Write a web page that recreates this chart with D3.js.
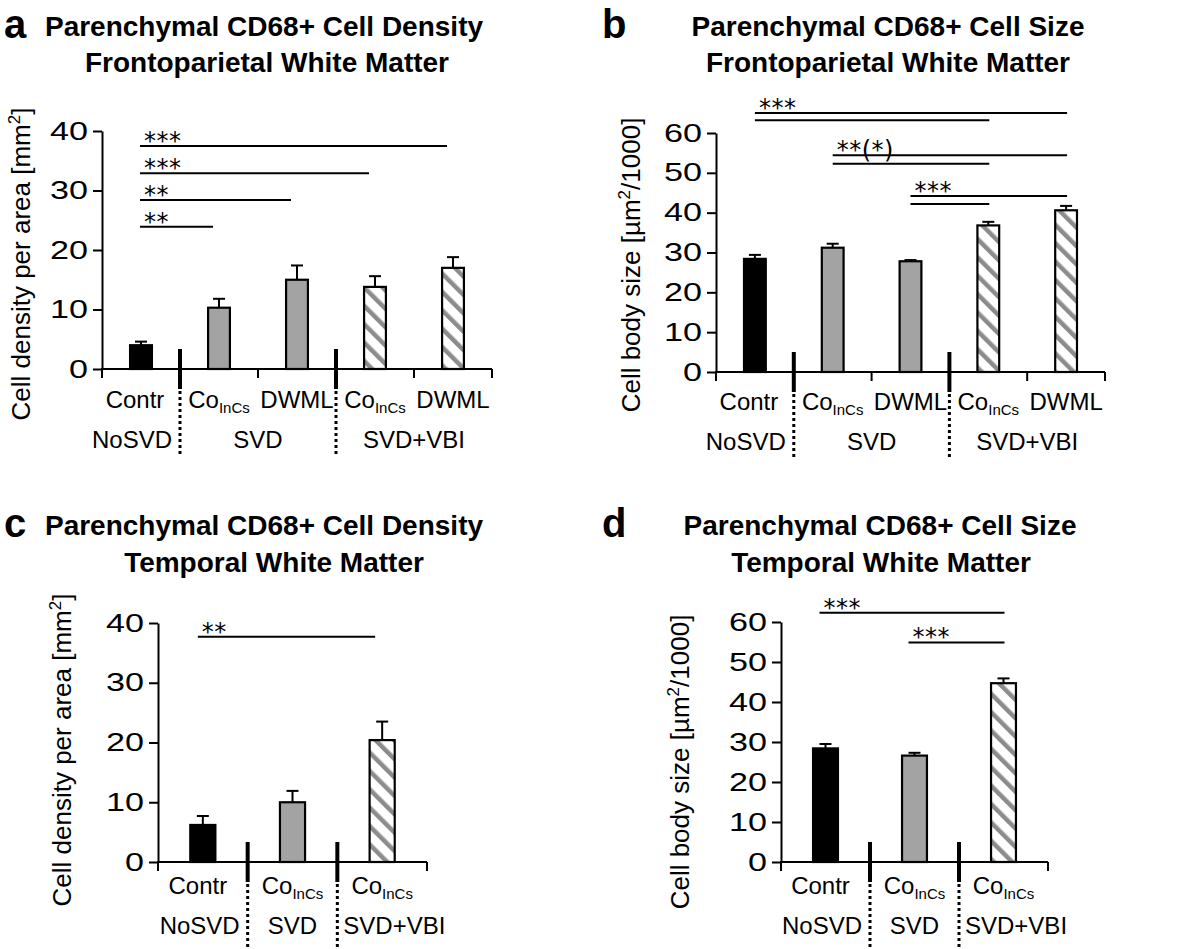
<!DOCTYPE html>
<html><head><meta charset="utf-8">
<script src="https://cdn.jsdelivr.net/npm/d3@7"></script>
<style>
body{margin:0;background:#fff;}
svg{display:block;font-family:"Liberation Sans",Arial,Helvetica,sans-serif;}
</style></head><body>
<svg id="fig" width="1181" height="949"></svg>
<script>
// ---------- DATA ----------
const catMainAB = ["Contr", "Co", "DWML", "Co", "DWML"];
const catSubAB  = ["", "InCs", "", "InCs", ""];
const fillAB    = ["black", "gray", "gray", "hatch", "hatch"];
const groupsAB  = ["NoSVD", "SVD", "SVD+VBI"];
const groupSizeAB = [1, 2, 2];

const catMainCD = ["Contr", "Co", "Co"];
const catSubCD  = ["", "InCs", "InCs"];
const fillCD    = ["black", "gray", "hatch"];
const groupsCD  = ["NoSVD", "SVD", "SVD+VBI"];
const groupSizeCD = [1, 1, 1];

const valuesA = [4.0, 10.3, 15.0, 13.8, 17.0];
const errorsA = [0.6, 1.5, 2.4, 1.8, 1.8];
const valuesB = [28.4, 31.2, 27.8, 36.8, 40.6];
const errorsB = [1.0, 1.0, 0.3, 0.9, 1.1];
const valuesC = [6.2, 10.0, 20.4];
const errorsC = [1.5, 1.9, 3.1];
const valuesD = [28.4, 26.6, 44.7];
const errorsD = [1.1, 0.7, 1.2];

const ticksDensity = [0, 10, 20, 30, 40];
const ticksSize    = [0, 10, 20, 30, 40, 50, 60];

// significance brackets: from category, to category, height (data units), label
const sigA = [
  {from: 0, to: 4, level: 37.5, label: "***"},
  {from: 0, to: 3, level: 32.9, label: "***"},
  {from: 0, to: 2, level: 28.4, label: "**"},
  {from: 0, to: 1, level: 23.9, label: "**"}
];
const sigB = [
  {from: 0, to: 4, level: 65.0, label: "***"},
  {from: 0, to: 3, level: 63.2, label: ""},
  {from: 1, to: 4, level: 54.4, label: "**(*)"},
  {from: 1, to: 3, level: 52.3, label: ""},
  {from: 2, to: 4, level: 44.2, label: "***"},
  {from: 2, to: 3, level: 42.2, label: ""}
];
const sigC = [
  {from: 0, to: 2, level: 37.7, label: "**"}
];
const sigD = [
  {from: 0, to: 2, level: 62.3, label: "***"},
  {from: 1, to: 2, level: 54.9, label: "***"}
];

const titleDensity = "Parenchymal CD68+ Cell Density";
const titleSize = "Parenchymal CD68+ Cell Size";
const regionFP = "Frontoparietal White Matter";
const regionT = "Temporal White Matter";
const yLabelDensity = ["Cell density per area [mm", "2", "]"];
const yLabelSize = ["Cell body size [µm", "2", "/1000]"];

// ---------- DRAWING ----------
const svg = d3.select("#fig");
const defs = svg.append("defs");
const pat = defs.append("pattern").attr("id", "hatch")
  .attr("patternUnits", "userSpaceOnUse").attr("width", 13).attr("height", 13)
  .attr("patternTransform", "rotate(-45)");
pat.append("rect").attr("width", 13).attr("height", 13).attr("fill", "#ffffff");
pat.append("rect").attr("x", 0).attr("width", 4.5).attr("height", 13).attr("fill", "#8c8c8c");

const fillColor = t => t === "black" ? "#000000" : t === "gray" ? "#a3a3a3" : "url(#hatch)";

function drawPanel(c) {
  const g = svg.append("g");
  const n = c.values.length;
  const x = d3.scaleBand().domain(d3.range(n)).range([c.x0, c.x1])
    .paddingInner(0.72).paddingOuter(0.36);
  const y = d3.scaleLinear().domain([0, d3.max(c.ticks)]).range([c.yBottom, c.yTop]);
  const step = x.step();
  const cx = i => x(i) + x.bandwidth() / 2;
  const boundary = k => k < n ? cx(k) - step / 2 : cx(n - 1) + step / 2;

  // letter & titles
  g.append("text").attr("x", c.letterX).attr("y", c.titleY1 + 2)
    .attr("font-size", 40).attr("font-weight", "bold").text(c.letter);
  g.append("text").attr("x", c.titleX1).attr("y", c.titleY1).attr("text-anchor", "middle")
    .attr("font-size", 28).attr("font-weight", "bold").text(c.title1);
  g.append("text").attr("x", c.titleX2).attr("y", c.titleY2).attr("text-anchor", "middle")
    .attr("font-size", 28).attr("font-weight", "bold").text(c.title2);

  // y label
  const yl = g.append("text")
    .attr("transform", `translate(${c.yLabelX},${c.yLabelY}) rotate(-90)`)
    .attr("text-anchor", "middle").attr("font-size", 26);
  yl.append("tspan").text(c.yLabel[0]);
  yl.append("tspan").attr("font-size", 17).attr("dy", -10).text(c.yLabel[1]);
  yl.append("tspan").attr("dy", 10).text(c.yLabel[2]);

  // bars
  g.append("g").selectAll("rect").data(c.values).join("rect")
    .attr("x", (d, i) => x(i)).attr("width", x.bandwidth())
    .attr("y", d => y(d)).attr("height", d => y(0) - y(d))
    .attr("fill", (d, i) => fillColor(c.fills[i]))
    .attr("stroke", "#000").attr("stroke-width", 2.2);

  // error bars
  const eb = g.append("g").attr("stroke", "#000").attr("stroke-width", 2);
  eb.selectAll("line.v").data(c.values).join("line").attr("class", "v")
    .attr("x1", (d, i) => cx(i)).attr("x2", (d, i) => cx(i))
    .attr("y1", d => y(d)).attr("y2", (d, i) => y(d + c.errors[i]));
  eb.selectAll("line.c").data(c.values).join("line").attr("class", "c")
    .attr("x1", (d, i) => cx(i) - 6).attr("x2", (d, i) => cx(i) + 6)
    .attr("y1", (d, i) => y(d + c.errors[i])).attr("y2", (d, i) => y(d + c.errors[i]));

  // y axis
  const ya = g.append("g").attr("transform", `translate(${c.x0},0)`)
    .call(d3.axisLeft(y).tickValues(c.ticks).tickSize(9).tickSizeOuter(0).tickPadding(5));
  ya.select(".domain").attr("stroke", "#000").attr("stroke-width", 2);
  ya.selectAll(".tick line").attr("stroke", "#000").attr("stroke-width", 2);
  ya.selectAll(".tick text").attr("font-size", 25).attr("fill", "#000")
    .attr("font-family", "Liberation Sans, Arial, sans-serif")
    .attr("textLength", d => String(d).length * 19).attr("lengthAdjust", "spacingAndGlyphs");

  // x axis
  g.append("line").attr("x1", c.x0 - 1).attr("x2", boundary(n)).attr("y1", y(0)).attr("y2", y(0))
    .attr("stroke", "#000").attr("stroke-width", 2);
  const gb = [];
  let acc = 0;
  c.groupSize.forEach((s, i) => { if (i > 0) gb.push(acc); acc += s; });
  const ks = d3.range(n + 1);
  g.append("g").selectAll("line").data(ks.filter(k => !gb.includes(k))).join("line")
    .attr("x1", k => boundary(k)).attr("x2", k => boundary(k))
    .attr("y1", y(0)).attr("y2", y(0) + 9)
    .attr("stroke", "#000").attr("stroke-width", 2);
  g.append("g").selectAll("line").data(gb).join("line")
    .attr("x1", k => boundary(k)).attr("x2", k => boundary(k))
    .attr("y1", y(0) - 20).attr("y2", y(0) + 20)
    .attr("stroke", "#000").attr("stroke-width", 4);
  g.append("g").selectAll("line").data(gb).join("line")
    .attr("x1", k => boundary(k)).attr("x2", k => boundary(k))
    .attr("y1", y(0) + 22).attr("y2", c.dotEnd)
    .attr("stroke", "#000").attr("stroke-width", 3).attr("stroke-dasharray", "3,3");

  // category labels
  const cl = g.append("g").selectAll("text").data(c.catMain).join("text")
    .attr("x", (d, i) => cx(i) + (i === 0 ? c.firstNudge : 0)).attr("y", c.catY)
    .attr("text-anchor", "middle").attr("font-size", 24);
  cl.append("tspan").text(d => d);
  cl.append("tspan").attr("font-size", 15).attr("dy", 5).text((d, i) => c.catSub[i]);

  // group labels
  let start = 0;
  c.groups.forEach((name, gi) => {
    const k0 = start, k1 = start + c.groupSize[gi];
    start = k1;
    const t = g.append("text").attr("y", c.grpY).attr("text-anchor", "middle")
      .attr("font-size", 24).text(name);
    const w = t.node().getComputedTextLength();
    let xc = (boundary(k0) + boundary(k1)) / 2;
    if (gi < c.groups.length - 1) xc = Math.min(xc, boundary(k1) - 8 - w / 2);
    if (gi > 0) xc = Math.max(xc, boundary(k0) + 6 + w / 2);
    t.attr("x", xc);
  });

  // significance
  const sg = g.append("g");
  sg.selectAll("line").data(c.sig).join("line")
    .attr("x1", d => cx(d.from) + c.sigStart).attr("x2", d => cx(d.to) + c.sigEnd)
    .attr("y1", d => y(d.level)).attr("y2", d => y(d.level))
    .attr("stroke", "#000").attr("stroke-width", 2);
  sg.selectAll("text").data(c.sig.filter(d => d.label)).join("text")
    .attr("x", d => cx(d.from) + c.sigStart + 4).attr("y", d => y(d.level) + 3)
    .attr("font-family", "DejaVu Sans, sans-serif").attr("font-size", 24)
    .attr("letter-spacing", 0.5)
    .text(d => d.label);
}

drawPanel({
  letter: "a", title1: titleDensity, title2: regionFP,
  titleX1: 264, titleX2: 267, titleY1: 36, titleY2: 72, letterX: 4,
  x0: 102, x1: 492, yTop: 131, yBottom: 369, ticks: ticksDensity,
  values: valuesA, errors: errorsA, fills: fillAB,
  catMain: catMainAB, catSub: catSubAB, groups: groupsAB, groupSize: groupSizeAB,
  catY: 408, grpY: 448, dotEnd: 455, firstNudge: -6,
  yLabel: yLabelDensity, yLabelX: 30, yLabelY: 264,
  sig: sigA, sigStart: -1, sigEnd: -6
});
drawPanel({
  letter: "b", title1: titleSize, title2: regionFP,
  titleX1: 888, titleX2: 888, titleY1: 36, titleY2: 72, letterX: 602,
  x0: 716, x1: 1105, yTop: 133, yBottom: 372, ticks: ticksSize,
  values: valuesB, errors: errorsB, fills: fillAB,
  catMain: catMainAB, catSub: catSubAB, groups: groupsAB, groupSize: groupSizeAB,
  catY: 410, grpY: 450, dotEnd: 458, firstNudge: -6,
  yLabel: yLabelSize, yLabelX: 640, yLabelY: 265,
  sig: sigB, sigStart: 0, sigEnd: 1
});
drawPanel({
  letter: "c", title1: titleDensity, title2: regionT,
  titleX1: 264, titleX2: 274, titleY1: 535, titleY2: 572, letterX: 4,
  x0: 158, x1: 427, yTop: 623, yBottom: 862, ticks: ticksDensity,
  values: valuesC, errors: errorsC, fills: fillCD,
  catMain: catMainCD, catSub: catSubCD, groups: groupsCD, groupSize: groupSizeCD,
  catY: 894, grpY: 934, dotEnd: 949, firstNudge: -5,
  yLabel: yLabelDensity, yLabelX: 71, yLabelY: 750,
  sig: sigC, sigStart: -5, sigEnd: -7
});
drawPanel({
  letter: "d", title1: titleSize, title2: regionT,
  titleX1: 880, titleX2: 881, titleY1: 535, titleY2: 572, letterX: 602,
  x0: 781, x1: 1048, yTop: 622, yBottom: 862, ticks: ticksSize,
  values: valuesD, errors: errorsD, fills: fillCD,
  catMain: catMainCD, catSub: catSubCD, groups: groupsCD, groupSize: groupSizeCD,
  catY: 894, grpY: 934, dotEnd: 949, firstNudge: -5,
  yLabel: yLabelSize, yLabelX: 689, yLabelY: 762,
  sig: sigD, sigStart: -6, sigEnd: 1
});
</script>
</body></html>
